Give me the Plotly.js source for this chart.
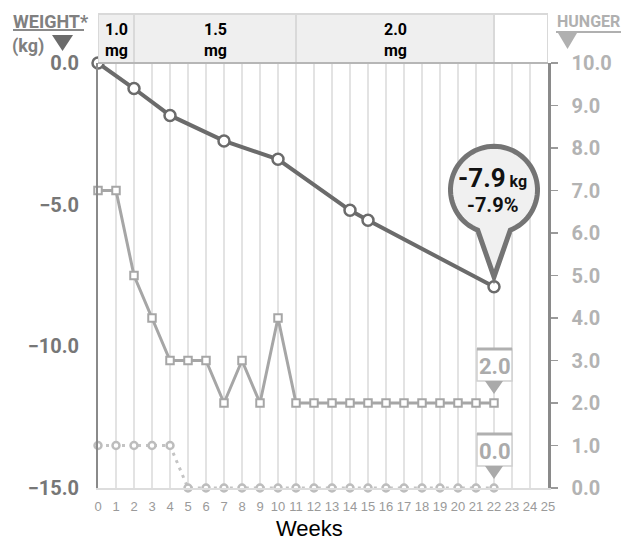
<!DOCTYPE html>
<html><head><meta charset="utf-8">
<script src="https://cdn.plot.ly/plotly-3.0.1.min.js"></script>
<style>body{margin:0;background:#fff;} #chart{width:625px;height:540px;}</style>
</head><body><div id="chart"></div>
<script>
// ---- data ----
const xTicks = [0,1,2,3,4,5,6,7,8,9,10,11,12,13,14,15,16,17,18,19,20,21,22,23,24,25];
const weightWeeks = [0, 2, 4, 7, 10, 14, 15, 22];
const weightKg = [0.0, -0.9, -1.85, -2.75, -3.4, -5.2, -5.55, -7.9];
const hungerWeeks = [0,1,2,3,4,5,6,7,8,9,10,11,12,13,14,15,16,17,18,19,20,21,22];
const hungerScore = [7,7,5,4,3,3,3,2,3,2,4,2,2,2,2,2,2,2,2,2,2,2,2];
const nauseaWeeks = [0,1,2,3,4,5,6,7,8,9,10,11,12,13,14,15,16,17,18,19,20,21,22];
const nauseaScore = [1,1,1,1,1,0,0,0,0,0,0,0,0,0,0,0,0,0,0,0,0,0,0];
const doseStart = [0, 2, 11, 22];
const doseEnd = [2, 11, 22, 25];
const doseValue = ['1.0', '1.5', '2.0', ''];
const doseUnit = ['mg', 'mg', 'mg', ''];
const weightPctLabel = '-7.9%';
const weightKgLabel = '-7.9';

// ---- styling ----
const COND = "Roboto, 'Liberation Sans', Arial, sans-serif";
const SANS = "'Liberation Sans', Arial, sans-serif";
const L = 98, B = 488; // plot origin in page pixels (from margins)

function pp(px, py) { return (px - L) + ',' + (B - py); }
function pixPath(d, fill, lineColor, lineWidth) {
  return {type:'path', xref:'paper', yref:'paper', xsizemode:'pixel', ysizemode:'pixel',
          xanchor:0, yanchor:0, path:d, fillcolor:fill,
          line:{color:lineColor, width:lineWidth}, layer:'above'};
}
function pixLine(x0, y0, x1, y1, color, width) {
  return {type:'line', xref:'paper', yref:'paper', xsizemode:'pixel', ysizemode:'pixel',
          xanchor:0, yanchor:0, x0:x0-L, x1:x1-L, y0:B-y0, y1:B-y1,
          line:{color:color, width:width}};
}
function pixText(text, px, py, size, color, family, anchor) {
  return {text:text, xref:'paper', yref:'paper', x:0, y:0, xshift:px-L, yshift:B-py,
          xanchor:anchor||'left', yanchor:'middle', showarrow:false,
          font:{size:size, color:color, family:family}};
}

const traces = [
  { x: nauseaWeeks, y: nauseaScore, yaxis:'y2', type:'scatter', mode:'lines+markers',
    line:{color:'#c4c4c4', width:3, dash:'3px,5px'},
    marker:{symbol:'circle', size:7, color:'#ffffff', line:{color:'#bdbdbd', width:2.5}},
    cliponaxis:false, hoverinfo:'skip' },
  { x: hungerWeeks, y: hungerScore, yaxis:'y2', type:'scatter', mode:'lines+markers',
    line:{color:'#a6a6a6', width:3},
    marker:{symbol:'square', size:7.5, color:'#ffffff', line:{color:'#a6a6a6', width:2}},
    cliponaxis:false, hoverinfo:'skip' },
  { x: weightWeeks, y: weightKg, yaxis:'y', type:'scatter', mode:'lines+markers',
    line:{color:'#6b6b6b', width:4},
    marker:{symbol:'circle', size:11, color:'#ffffff', line:{color:'#6b6b6b', width:2.5}},
    cliponaxis:false, hoverinfo:'skip' }
];

const shapes = [];
const annotations = [];

// dose band above the plot
for (let i = 0; i < doseStart.length; i++) {
  shapes.push({type:'rect', xref:'x', yref:'paper', ysizemode:'pixel', yanchor:1,
    x0:doseStart[i], x1:doseEnd[i], y0:0, y1:49,
    fillcolor: doseValue[i] ? '#efefef' : '#ffffff',
    line:{color:'#d9d9d9', width:2}});
  if (doseValue[i]) {
    const xm = (doseStart[i] + doseEnd[i]) / 2;
    annotations.push({text:'<b>' + doseValue[i] + '<br>' + doseUnit[i] + '</b>', xref:'x', yref:'paper', x:xm, y:1,
      yshift:23.5, showarrow:false, yanchor:'middle', font:{size:16, color:'#000', family:COND}});
  }
}
shapes.push({type:'line', xref:'x', yref:'paper', x0:xTicks[0], x1:xTicks[xTicks.length-1], y0:1, y1:1,
  line:{color:'#aaaaaa', width:1.5}});

// axis headers
annotations.push(pixText('<b>WEIGHT*</b>', 11, 21.5, 18, '#808080', COND));
annotations.push(pixText('<b>(kg)</b>', 10, 46, 18, '#808080', COND));
shapes.push(pixLine(13, 30, 84, 30, '#8a8a8a', 2));
shapes.push(pixPath('M' + pp(52,35) + 'L' + pp(73,35) + 'L' + pp(62.5,51) + 'Z', '#6b6b6b', '#6b6b6b', 0));
annotations.push(pixText('<b>HUNGER</b>', 555, 21, 16, '#b0b0b0', COND));
shapes.push(pixLine(556, 32, 621, 32, '#b0b0b0', 2));
shapes.push(pixPath('M' + pp(558,33) + 'L' + pp(577,33) + 'L' + pp(567.5,49) + 'Z', '#b0b0b0', '#b0b0b0', 0));

// balloon callout at the last weight point
const lastW = weightWeeks.length - 1;
(function () {
  const cy = 97, r = 43.5, half = 22, tipY = 10, n = 72;
  let d = 'M0,' + tipY;
  const a0 = 270 - half, a1 = -90 + half;
  for (let k = 0; k <= n; k++) {
    const a = (a0 + (a1 - a0) * k / n) * Math.PI / 180;
    d += 'L' + (r * Math.cos(a)).toFixed(2) + ',' + (cy + r * Math.sin(a)).toFixed(2);
  }
  d += 'Z';
  shapes.push({type:'path', xref:'x', yref:'y', xsizemode:'pixel', ysizemode:'pixel',
    xanchor:weightWeeks[lastW], yanchor:weightKg[lastW], path:d,
    fillcolor:'#f0f0f0', line:{color:'#747474', width:5}, layer:'above'});
  annotations.push({text:'<b>' + weightKgLabel + '</b><span style="font-size:16px"><b> kg</b></span>',
    xref:'x', yref:'y', x:weightWeeks[lastW], y:weightKg[lastW], xshift:-1.5, yshift:108.5,
    showarrow:false, yanchor:'middle', font:{size:26, color:'#111', family:COND}});
  annotations.push({text:'<b>' + weightPctLabel + '</b>',
    xref:'x', yref:'y', x:weightWeeks[lastW], y:weightKg[lastW], xshift:-2, yshift:82,
    showarrow:false, yanchor:'middle', font:{size:20, color:'#111', family:COND}});
})();

// small value tags for hunger and nausea last points
function tag(xv, yv, label) {
  shapes.push({type:'rect', xref:'x', yref:'y2', xsizemode:'pixel', ysizemode:'pixel',
    xanchor:xv, yanchor:yv, x0:-17, x1:18, y0:22, y1:54,
    fillcolor:'#ffffff', line:{color:'#d0d0d0', width:1.5}, layer:'above'});
  shapes.push({type:'line', xref:'x', yref:'y2', xsizemode:'pixel', ysizemode:'pixel',
    xanchor:xv, yanchor:yv, x0:-17, x1:18, y0:54, y1:54,
    line:{color:'#b0b0b0', width:3}, layer:'above'});
  shapes.push({type:'path', xref:'x', yref:'y2', xsizemode:'pixel', ysizemode:'pixel',
    xanchor:xv, yanchor:yv, path:'M-9,22L9,22L0,9Z',
    fillcolor:'#aaaaaa', line:{color:'#aaaaaa', width:0}, layer:'above'});
  annotations.push({text:'<b>' + label + '</b>', xref:'x', yref:'y2', x:xv, y:yv,
    xshift:1, yshift:37, showarrow:false, yanchor:'middle',
    font:{size:22, color:'#ababab', family:COND}});
}
const lastH = hungerWeeks.length - 1, lastN = nauseaWeeks.length - 1;
tag(hungerWeeks[lastH], hungerScore[lastH], hungerScore[lastH].toFixed(1));
tag(nauseaWeeks[lastN], nauseaScore[lastN], nauseaScore[lastN].toFixed(1));

// x-axis title
annotations.push({text:'Weeks', xref:'paper', yref:'paper', x:0.471, y:0, yshift:-40.5,
  showarrow:false, yanchor:'middle', font:{size:22, color:'#000', family:SANS}});

const layout = {
  width:625, height:540,
  margin:{l:98, r:77, t:63, b:52, pad:0},
  paper_bgcolor:'#ffffff', plot_bgcolor:'#ffffff',
  showlegend:false,
  xaxis:{range:[xTicks[0], xTicks[xTicks.length-1]], tickvals:xTicks, ticktext:xTicks.map(String),
    showgrid:true, gridcolor:'#e3e3e3', gridwidth:1.2, zeroline:false,
    showline:true, linecolor:'#dddddd', linewidth:2, ticks:'', ticklabelstandoff:5,
    tickfont:{size:13, color:'#9a9a9a', family:SANS}, fixedrange:true},
  yaxis:{range:[-15, 0], tickvals:[0,-5,-10,-15], tickformat:'.1f',
    showgrid:false, zeroline:false, showline:true, linecolor:'#8a8a8a', linewidth:2,
    ticks:'', ticklabelstandoff:13,
    tickfont:{size:20, color:'#777777', family:COND, weight:'bold'}, fixedrange:true},
  yaxis2:{range:[0, 10], overlaying:'y', side:'right', tickvals:[0,1,2,3,4,5,6,7,8,9,10], tickformat:'.1f',
    showgrid:false, zeroline:false, showline:true, linecolor:'#8a8a8a', linewidth:2.5,
    ticks:'outside', ticklen:7, tickcolor:'#9a9a9a', tickwidth:1.5, ticklabelstandoff:10,
    tickfont:{size:20, color:'#b3b3b3', family:COND, weight:'bold'}, fixedrange:true},
  shapes:shapes,
  annotations:annotations
};

Plotly.newPlot('chart', traces, layout, {displayModeBar:false, staticPlot:true});
</script>
</body></html>
